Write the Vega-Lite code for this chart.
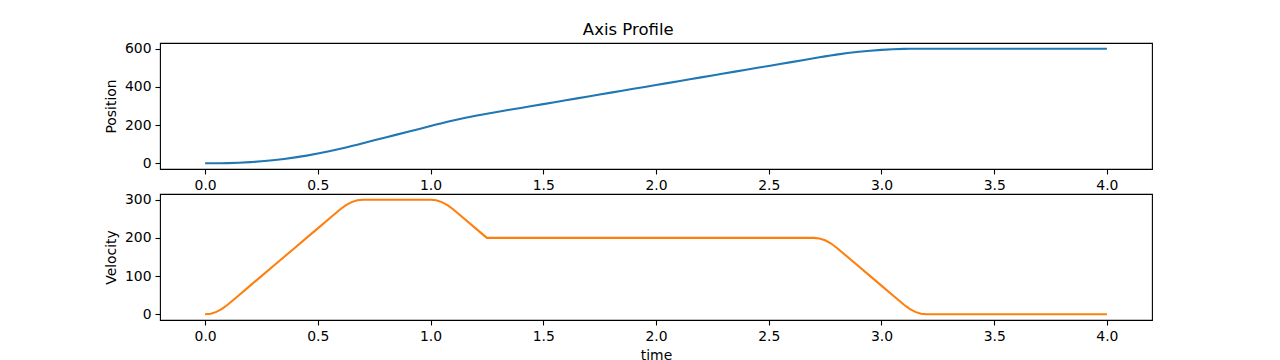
{
  "$schema": "https://vega.github.io/schema/vega-lite/v6.json",
  "padding": {"left": 103, "top": 21, "right": 0, "bottom": 0},
  "background": "white",
  "config": {
    "font": "DejaVu Sans",
    "view": {"stroke": "black", "strokeWidth": 1.1},
    "axis": {
      "grid": false,
      "domain": false,
      "ticks": true,
      "tickColor": "black",
      "tickSize": 5,
      "tickWidth": 1.1,
      "labelFont": "DejaVu Sans",
      "labelFontSize": 13.9,
      "labelColor": "black",
      "labelPadding": 4,
      "titleFont": "DejaVu Sans",
      "titleFontSize": 13.9,
      "titleFontWeight": "normal",
      "titleColor": "black",
      "titlePadding": 6
    },
    "concat": {"spacing": 25}
  },
  "title": {
    "text": "Axis Profile",
    "font": "DejaVu Sans",
    "fontSize": 16.5,
    "fontWeight": "normal",
    "color": "black",
    "anchor": "middle",
    "offset": 3
  },
  "datasets": {
    "profile": [
      {"t": 0.0, "position": 0.0, "velocity": 0.0},
      {"t": 0.025, "position": 0.013, "velocity": 1.5625},
      {"t": 0.05, "position": 0.104, "velocity": 6.25},
      {"t": 0.075, "position": 0.352, "velocity": 14.0625},
      {"t": 0.1, "position": 0.833, "velocity": 25},
      {"t": 0.15, "position": 2.708, "velocity": 50},
      {"t": 0.2, "position": 5.833, "velocity": 75},
      {"t": 0.25, "position": 10.208, "velocity": 100},
      {"t": 0.3, "position": 15.833, "velocity": 125},
      {"t": 0.35, "position": 22.708, "velocity": 150},
      {"t": 0.4, "position": 30.833, "velocity": 175},
      {"t": 0.45, "position": 40.208, "velocity": 200},
      {"t": 0.5, "position": 50.833, "velocity": 225},
      {"t": 0.55, "position": 62.708, "velocity": 250},
      {"t": 0.6, "position": 75.833, "velocity": 275},
      {"t": 0.625, "position": 82.852, "velocity": 285.94},
      {"t": 0.65, "position": 90.104, "velocity": 293.75},
      {"t": 0.675, "position": 97.513, "velocity": 298.44},
      {"t": 0.7, "position": 105.0, "velocity": 300},
      {"t": 0.75, "position": 120.0, "velocity": 300},
      {"t": 0.8, "position": 135.0, "velocity": 300},
      {"t": 0.85, "position": 150.0, "velocity": 300},
      {"t": 0.9, "position": 165.0, "velocity": 300},
      {"t": 0.95, "position": 180.0, "velocity": 300},
      {"t": 1.0, "position": 195.0, "velocity": 300},
      {"t": 1.025, "position": 202.487, "velocity": 298.44},
      {"t": 1.05, "position": 209.896, "velocity": 293.75},
      {"t": 1.075, "position": 217.148, "velocity": 285.94},
      {"t": 1.1, "position": 224.167, "velocity": 275},
      {"t": 1.15, "position": 237.292, "velocity": 250},
      {"t": 1.2, "position": 249.167, "velocity": 225},
      {"t": 1.25, "position": 259.792, "velocity": 200},
      {"t": 1.3, "position": 269.792, "velocity": 200},
      {"t": 1.35, "position": 279.792, "velocity": 200},
      {"t": 1.4, "position": 289.792, "velocity": 200},
      {"t": 1.45, "position": 299.792, "velocity": 200},
      {"t": 1.5, "position": 309.792, "velocity": 200},
      {"t": 1.55, "position": 319.792, "velocity": 200},
      {"t": 1.6, "position": 329.792, "velocity": 200},
      {"t": 1.65, "position": 339.792, "velocity": 200},
      {"t": 1.7, "position": 349.792, "velocity": 200},
      {"t": 1.75, "position": 359.792, "velocity": 200},
      {"t": 1.8, "position": 369.792, "velocity": 200},
      {"t": 1.85, "position": 379.792, "velocity": 200},
      {"t": 1.9, "position": 389.792, "velocity": 200},
      {"t": 1.95, "position": 399.792, "velocity": 200},
      {"t": 2.0, "position": 409.792, "velocity": 200},
      {"t": 2.05, "position": 419.792, "velocity": 200},
      {"t": 2.1, "position": 429.792, "velocity": 200},
      {"t": 2.15, "position": 439.792, "velocity": 200},
      {"t": 2.2, "position": 449.792, "velocity": 200},
      {"t": 2.25, "position": 459.792, "velocity": 200},
      {"t": 2.3, "position": 469.792, "velocity": 200},
      {"t": 2.35, "position": 479.792, "velocity": 200},
      {"t": 2.4, "position": 489.792, "velocity": 200},
      {"t": 2.45, "position": 499.792, "velocity": 200},
      {"t": 2.5, "position": 509.792, "velocity": 200},
      {"t": 2.55, "position": 519.792, "velocity": 200},
      {"t": 2.6, "position": 529.792, "velocity": 200},
      {"t": 2.65, "position": 539.792, "velocity": 200},
      {"t": 2.7, "position": 549.792, "velocity": 200},
      {"t": 2.725, "position": 554.779, "velocity": 198.44},
      {"t": 2.75, "position": 559.688, "velocity": 193.75},
      {"t": 2.775, "position": 564.44, "velocity": 185.94},
      {"t": 2.8, "position": 568.959, "velocity": 175},
      {"t": 2.85, "position": 577.084, "velocity": 150},
      {"t": 2.9, "position": 583.959, "velocity": 125},
      {"t": 2.95, "position": 589.584, "velocity": 100},
      {"t": 3.0, "position": 593.959, "velocity": 75},
      {"t": 3.05, "position": 597.084, "velocity": 50},
      {"t": 3.1, "position": 598.959, "velocity": 25},
      {"t": 3.125, "position": 599.44, "velocity": 14.0625},
      {"t": 3.15, "position": 599.688, "velocity": 6.25},
      {"t": 3.175, "position": 599.779, "velocity": 1.5625},
      {"t": 3.2, "position": 599.792, "velocity": 0},
      {"t": 3.3, "position": 599.792, "velocity": 0},
      {"t": 3.4, "position": 599.792, "velocity": 0},
      {"t": 3.5, "position": 599.792, "velocity": 0},
      {"t": 3.6, "position": 599.792, "velocity": 0},
      {"t": 3.7, "position": 599.792, "velocity": 0},
      {"t": 3.8, "position": 599.792, "velocity": 0},
      {"t": 3.9, "position": 599.792, "velocity": 0},
      {"t": 4.0, "position": 599.792, "velocity": 0}
    ]
  },
  "vconcat": [
    {
      "width": 992,
      "height": 126,
      "data": {"name": "profile"},
      "mark": {"type": "line", "color": "#1f77b4", "strokeWidth": 2.1, "interpolate": "linear"},
      "encoding": {
        "x": {
          "field": "t",
          "type": "quantitative",
          "scale": {"domain": [-0.2, 4.2], "nice": false, "zero": false},
          "axis": {"title": null, "values": [0, 0.5, 1, 1.5, 2, 2.5, 3, 3.5, 4], "format": ".1f"}
        },
        "y": {
          "field": "position",
          "type": "quantitative",
          "scale": {"domain": [-29.99, 629.78], "nice": false, "zero": false},
          "axis": {"title": "Position", "values": [0, 200, 400, 600]}
        }
      }
    },
    {
      "width": 992,
      "height": 126,
      "data": {"name": "profile"},
      "mark": {"type": "line", "color": "#ff7f0e", "strokeWidth": 2.1, "interpolate": "linear"},
      "encoding": {
        "x": {
          "field": "t",
          "type": "quantitative",
          "scale": {"domain": [-0.2, 4.2], "nice": false, "zero": false},
          "axis": {"title": "time", "values": [0, 0.5, 1, 1.5, 2, 2.5, 3, 3.5, 4], "format": ".1f"}
        },
        "y": {
          "field": "velocity",
          "type": "quantitative",
          "scale": {"domain": [-15, 315], "nice": false, "zero": false},
          "axis": {"title": "Velocity", "values": [0, 100, 200, 300]}
        }
      }
    }
  ],
  "bounds": "flush"
}
